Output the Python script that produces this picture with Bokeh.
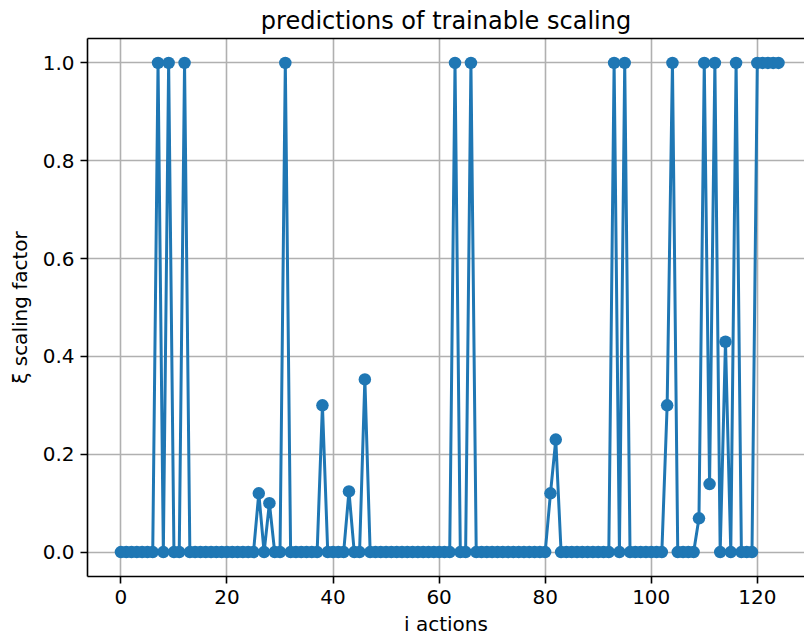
from bokeh.plotting import figure
from bokeh.models import Range1d, LinearAxis, FixedTicker, Title, Grid, CustomJSTickFormatter
from bokeh.embed import file_html
from bokeh.resources import INLINE

# data
actions = list(range(125))
nonzero = {
    7: 1.0, 9: 1.0, 12: 1.0, 26: 0.12, 28: 0.10, 31: 1.0, 38: 0.30, 43: 0.124,
    46: 0.353, 63: 1.0, 66: 1.0, 81: 0.12, 82: 0.23, 93: 1.0, 95: 1.0,
    103: 0.30, 104: 1.0, 109: 0.069, 110: 1.0, 111: 0.139, 112: 1.0, 114: 0.43,
    116: 1.0, 120: 1.0, 121: 1.0, 122: 1.0, 123: 1.0, 124: 1.0,
}
xi = [nonzero.get(i, 0.0) for i in actions]
x_ticks = [0, 20, 40, 60, 80, 100, 120]
y_ticks = [0.0, 0.2, 0.4, 0.6, 0.8, 1.0]

FONT = "DejaVu Sans"
BLUE = "#1f77b4"
LW = 1.6

p = figure(width=804, height=639, output_backend="svg", toolbar_location=None,
           x_range=Range1d(-6.3, 128.9), y_range=Range1d(-0.05, 1.05),
           min_border_left=87, min_border_right=0, min_border_top=37,
           min_border_bottom=63, x_axis_location=None, y_axis_location=None)
p.outline_line_color = None
p.background_fill_color = "white"
p.border_fill_color = "white"

# remove any default grids, add our own
p.center = [r for r in p.center if not isinstance(r, Grid)]

top = LinearAxis(ticker=FixedTicker(ticks=[]))
top.axis_line_color = "black"
top.axis_line_width = LW
top.major_tick_line_color = None
top.major_tick_out = 0
top.major_tick_in = 0
top.minor_tick_line_color = None
top.major_label_standoff = 0
top.major_label_text_font_size = "0px"
p.add_layout(top, "above")

title = Title(text="predictions of trainable scaling", align="center",
              text_font=FONT, text_font_size="24px", text_font_style="normal",
              text_color="black", offset=0)
title.standoff = 8
p.add_layout(title, "above")

def style_axis(ax):
    ax.axis_line_color = "black"
    ax.axis_line_width = LW
    ax.major_tick_line_color = "black"
    ax.major_tick_line_width = LW
    ax.major_tick_out = 7
    ax.major_tick_in = 0
    ax.minor_tick_line_color = None
    ax.major_label_text_font = FONT
    ax.major_label_text_font_size = "20px"
    ax.major_label_text_color = "black"
    ax.axis_label_text_font = FONT
    ax.axis_label_text_font_size = "20px"
    ax.axis_label_text_font_style = "normal"
    ax.axis_label_text_color = "black"

xa = LinearAxis(ticker=FixedTicker(ticks=x_ticks), axis_label="i actions")
style_axis(xa)
xa.major_label_standoff = 6
xa.axis_label_standoff = 5
p.add_layout(xa, "below")

ya = LinearAxis(ticker=FixedTicker(ticks=y_ticks), axis_label="ξ scaling factor")
style_axis(ya)
ya.formatter = CustomJSTickFormatter(code="return tick.toFixed(1);")
ya.major_label_standoff = 6
ya.axis_label_standoff = 8
p.add_layout(ya, "left")

gx = Grid(dimension=0, ticker=FixedTicker(ticks=x_ticks), grid_line_color="#b0b0b0",
          grid_line_alpha=1.0, grid_line_width=LW)
gy = Grid(dimension=1, ticker=FixedTicker(ticks=y_ticks), grid_line_color="#b0b0b0",
          grid_line_alpha=1.0, grid_line_width=LW)
p.add_layout(gx, "center")
p.add_layout(gy, "center")

p.line(actions, xi, line_color=BLUE, line_width=3)
p.scatter(actions, xi, size=12.5, fill_color=BLUE, line_color=BLUE, line_width=0)

open("out.html", "w").write(file_html(p, INLINE))
